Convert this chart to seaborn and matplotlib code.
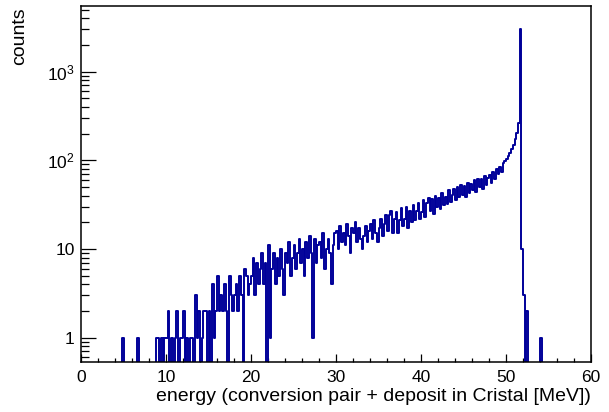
import numpy as np
import pandas as pd
import matplotlib
matplotlib.use("Agg")
import matplotlib.pyplot as plt
import seaborn as sns
from matplotlib.ticker import LogLocator, MultipleLocator, FixedLocator, FixedFormatter, NullFormatter

# ---------------- data (0.2 MeV bins, 0 .. 60 MeV) ----------------
x_range = (0.0, 60.0)

counts_00_10 = [0, 0, 0, 0, 0,   0, 0, 0, 0, 0,   0, 0, 0, 0, 0,   0, 0, 0, 0, 0,
                0, 0, 0, 0, 1,   0, 0, 0, 0, 0,   0, 0, 0, 1, 0,   0, 0, 0, 0, 0,
                0, 0, 0, 0, 1,   1, 0, 1, 0, 1]
counts_10_20 = [1, 2, 0, 1, 0,   1, 2, 0, 1, 1,   2, 0, 1, 0, 1,   1, 0, 3, 1, 2,
                0, 1, 2, 2, 0,   2, 0, 4, 1, 2,   5, 2, 3, 2, 4,   2, 0, 5, 3, 2,
                3, 4, 2, 5, 3,   0, 6, 5, 3, 4]
counts_20_30 = [5, 8, 3, 7, 4,   6, 9, 4, 7, 0,   11, 1, 6, 9, 4,  8, 5, 10, 6, 3,
                9, 7, 12, 5, 8,  11, 6, 9, 13, 7, 10, 5, 12, 8, 14, 9, 1, 13, 7, 11,
                12, 8, 15, 6, 10, 13, 9, 4, 11, 15]
counts_30_40 = [16, 10, 18, 12, 15, 11, 19, 14, 9, 17, 15, 20, 12, 17, 13,
                10, 14, 18, 12, 16, 19, 13, 21, 15, 12, 17, 22, 14, 19, 24,
                16, 24, 27, 15, 22, 26, 15, 21, 29, 18, 22, 30, 17, 27, 20,
                31, 21, 27, 33, 22]
counts_40_50 = [26, 36, 23, 33, 38, 27, 37, 25, 40, 30, 38, 28, 43, 31, 39,
                32, 46, 34, 41, 48, 36, 50, 39, 53, 41, 51, 39, 56, 43, 54,
                46, 60, 44, 62, 50, 61, 48, 66, 52, 63, 68, 55, 74, 62, 79,
                70, 85, 74, 92, 99]
counts_50_60 = [104, 112, 121, 135, 150, 172, 205, 265, 3000, 10,
                3, 0, 2, 0, 0,   0, 0, 0, 0, 0,   1, 0, 0, 0, 0,
                0, 0, 0, 0, 0,   0, 0, 0, 0, 0,   0, 0, 0, 0, 0,
                0, 0, 0, 0, 0,   0, 0, 0, 0, 0]

x_ticks = [0, 10, 20, 30, 40, 50, 60]
y_ticks = [1, 10, 100, 1000]
y_tick_labels = ["1", "10", r"$\mathregular{10^{2}}$", r"$\mathregular{10^{3}}$"]
x_title = "energy (conversion pair + deposit in Cristal [MeV])"
y_title = "counts"

counts = (counts_00_10 + counts_10_20 + counts_20_30 +
          counts_30_40 + counts_40_50 + counts_50_60)
edges = np.linspace(x_range[0], x_range[1], len(counts) + 1)
centers = 0.5 * (edges[:-1] + edges[1:])
df = pd.DataFrame({"energy": centers, "counts": counts})

# ---------------- style ----------------
sns.set_theme(style="white")
plt.rcParams["font.family"] = ["Liberation Sans", "DejaVu Sans"]
plt.rcParams["mathtext.fontset"] = "custom"
plt.rcParams["mathtext.rm"] = "Liberation Sans"
plt.rcParams["mathtext.it"] = "Liberation Sans:italic"
plt.rcParams["mathtext.bf"] = "Liberation Sans:bold"

fig = plt.figure(figsize=(6.09, 4.12), dpi=100)
fig.patch.set_facecolor("white")
ax = fig.add_axes([81 / 609, 50 / 412, 510 / 609, 356 / 412])
ax.set_facecolor("white")

sns.histplot(data=df, x="energy", weights="counts", bins=edges.tolist(),
             element="step", fill=False, color="#000099", linewidth=1.4, ax=ax)

ax.set_yscale("log")
ax.set_xlim(*x_range)
ax.set_ylim(0.53, 5500)

ax.xaxis.set_major_locator(FixedLocator(x_ticks))
ax.xaxis.set_minor_locator(MultipleLocator(2))
ax.yaxis.set_major_locator(FixedLocator(y_ticks))
ax.yaxis.set_major_formatter(FixedFormatter(y_tick_labels))
ax.yaxis.set_minor_locator(LogLocator(base=10, subs=np.arange(2, 10), numticks=20))
ax.yaxis.set_minor_formatter(NullFormatter())

ax.tick_params(axis="both", which="both", direction="in", bottom=True, left=True,
               top=False, right=False, color="black", labelcolor="black",
               width=0.9)
ax.tick_params(axis="x", which="major", length=5.5, pad=5.5, labelsize=12.5)
ax.tick_params(axis="x", which="minor", length=3.1)
ax.tick_params(axis="y", which="major", length=10.8, pad=4.5, labelsize=12.5)
ax.tick_params(axis="y", which="minor", length=5.8)

for s in ax.spines.values():
    s.set_color("black")
    s.set_linewidth(1.1)
    s.set_visible(True)

ax.set_xlabel(x_title, fontsize=14, color="black", ha="right", va="top")
ax.xaxis.set_label_coords(1.0, -0.074)
ax.set_ylabel(y_title, fontsize=14, color="black")
ax.yaxis.label.set_rotation_mode("default")
ax.yaxis.label.set_ha("center")
ax.yaxis.label.set_va("top")
ax.yaxis.set_label_coords(-0.121, 0.997)

fig.savefig("out.png", dpi=100)
